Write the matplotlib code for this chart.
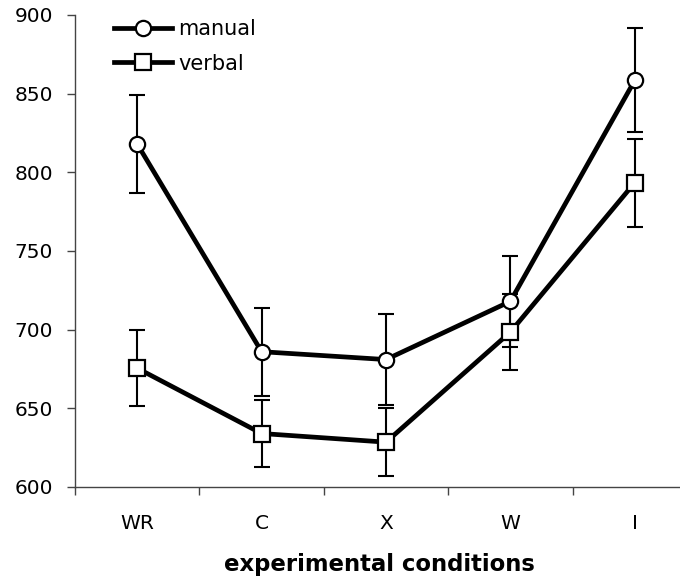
import matplotlib
matplotlib.use("Agg")
import matplotlib.pyplot as plt
import numpy as np

conditions = ["WR", "C", "X", "W", "I"]
manual_mean = [818, 686, 681, 718, 858.5]
manual_err = [31, 28, 29, 29, 33]
verbal_mean = [675.5, 634, 628.5, 698.5, 793.5]
verbal_err = [24, 21, 21.5, 24, 28]

plt.rcParams['font.family'] = ['DejaVu Sans']
fig = plt.figure(figsize=(6.8, 5.79), dpi=100)
ax = fig.add_axes([75/680, 92/579, 622/680, 472/579])
x = np.arange(len(conditions))

ax.errorbar(x, manual_mean, yerr=manual_err, fmt='none', ecolor='black',
            elinewidth=1.5, capsize=5.8, capthick=1.5, zorder=2)
ax.errorbar(x, verbal_mean, yerr=verbal_err, fmt='none', ecolor='black',
            elinewidth=1.5, capsize=5.8, capthick=1.5, zorder=2)
ax.plot(x, manual_mean, color='black', lw=3.4, marker='o', ms=11,
        mfc='white', mec='black', mew=1.6, label='manual', zorder=3)
ax.plot(x, verbal_mean, color='black', lw=3.4, marker='s', ms=11,
        mfc='white', mec='black', mew=1.6, label='verbal', zorder=3)

ax.set_xlim(-0.5, 4.5)
ax.set_ylim(600, 900)
ax.set_yticks(np.arange(600, 901, 50))
ax.set_xticks(x)
ax.set_xticklabels(conditions)
ax.set_xticks(np.arange(-0.5, 4.6, 1), minor=True)
ax.tick_params(axis='x', which='major', length=0, pad=19.5, labelsize=14.5)
ax.tick_params(axis='x', which='minor', length=5.5, width=1, color='#444444')
ax.tick_params(axis='y', length=5.8, width=1, color='#444444', labelsize=14.5, pad=10)
for s in ['top', 'right']:
    ax.spines[s].set_visible(False)
for s in ['left', 'bottom']:
    ax.spines[s].set_color('#444444')
    ax.spines[s].set_linewidth(1)

fig.text(379/680, 1 - 565/579, 'experimental conditions', fontsize=16.4,
         fontweight='bold', ha='center', va='center')

leg = ax.legend(loc='upper left', bbox_to_anchor=(114/680, 1 - 19/579),
                bbox_transform=fig.transFigure, frameon=False, fontsize=15,
                handlelength=2.8, handletextpad=0.3, labelspacing=0.7,
                borderaxespad=0, borderpad=0)

fig.savefig('out.png', dpi=100)
